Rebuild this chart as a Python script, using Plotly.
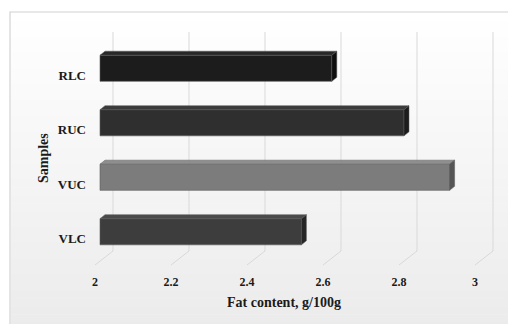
import plotly.graph_objects as go

# Fat content per sample (bottom to top as drawn)
samples = ["VLC", "VUC", "RUC", "RLC"]
fat_content = [2.53, 2.92, 2.80, 2.61]
bar_colors = ["#3d3d3d", "#7c7c7c", "#2f2f2f", "#1c1c1c"]
side_colors = ["#262626", "#555555", "#1c1c1c", "#0e0e0e"]
top_colors = ["#4a4a4a", "#8e8e8e", "#3a3a3a", "#282828"]
tick_vals = [2, 2.2, 2.4, 2.6, 2.8, 3]
tick_text = ["2", "2.2", "2.4", "2.6", "2.8", "3"]
axis_start = 2

# Page geometry (pixels)
W_PAGE, H_PAGE = 508, 324
L, R, T, B = 80, 508, 41, 259
PW, PH = R - L, B - T
PX_PER_UNIT = 380.0
CAT_PX = PH / len(samples)
DX, DY = 5, 4          # depth offset for the 3-D faces
HALF = 0.24 * CAT_PX   # half bar thickness in pixels


def px_x(p):
    return (p - L) / PW


def px_y(p):
    return (B - p) / PH


FONT = "Liberation Serif"
TXT = "#1a1a1a"

fig = go.Figure()

# Front faces of the bars
fig.add_trace(go.Bar(
    y=list(range(len(samples))),
    x=[v - axis_start for v in fat_content],
    base=axis_start,
    orientation="h",
    width=0.48,
    marker=dict(color=bar_colors, line=dict(color="#5a5a5a", width=0.6)),
    customdata=samples,
    hovertemplate="%{customdata}: %{x}<extra></extra>",
    xaxis="x", yaxis="y",
    showlegend=False,
))

# Carrier trace for the tick-label axes
fig.add_trace(go.Scatter(
    x=fat_content, y=list(range(len(samples))),
    mode="markers", marker=dict(opacity=0),
    hoverinfo="skip", showlegend=False,
    xaxis="x2", yaxis="y2",
))

shapes = []

# Soft vertical gradient inside the chart frame
n_bands = 40
y_top, y_bot = 13, 330
for k in range(n_bands):
    y0 = y_top + (y_bot - y_top) * k / n_bands
    y1 = y_top + (y_bot - y_top) * (k + 1) / n_bands
    g = int(round(255 - 20 * (k / (n_bands - 1))))
    shapes.append(dict(
        type="rect", xref="paper", yref="paper", layer="below",
        x0=px_x(11), x1=px_x(515), y0=px_y(y0), y1=px_y(y1 + 0.5),
        fillcolor=f"rgb({g},{g},{g})", line=dict(width=0),
    ))

# Chart frame
shapes.append(dict(
    type="rect", xref="paper", yref="paper", layer="below",
    x0=px_x(10), x1=px_x(515), y0=px_y(12), y1=px_y(335),
    fillcolor="rgba(0,0,0,0)", line=dict(color="#d2d2d2", width=1.2),
))

# Back-wall gridlines with their slanted floor segments
for t in tick_vals:
    shapes.append(dict(
        type="path", layer="below",
        xref="x", xsizemode="pixel", xanchor=t,
        yref="paper", ysizemode="pixel", yanchor=0,
        path="M 13,227 L 13,8 L -5,-6",
        line=dict(color="#d9d9d9", width=1),
    ))

# Top and side faces of the 3-D bars
dx_data = DX / PX_PER_UNIT
for i, v in enumerate(fat_content):
    shapes.append(dict(
        type="path", layer="above",
        xref="x", yref="y", ysizemode="pixel", yanchor=i,
        path=(f"M {axis_start},{HALF} L {axis_start + dx_data},{HALF + DY} "
              f"L {v + dx_data},{HALF + DY} L {v},{HALF} Z"),
        fillcolor=top_colors[i], line=dict(color="#5a5a5a", width=0.5),
    ))
    shapes.append(dict(
        type="path", layer="above",
        xref="x", xsizemode="pixel", xanchor=v,
        yref="y", ysizemode="pixel", yanchor=i,
        path=f"M 0,{HALF} L {DX},{HALF + DY} L {DX},{-HALF + DY} L 0,{-HALF} Z",
        fillcolor=side_colors[i], line=dict(color="#5a5a5a", width=0.5),
    ))

annotations = [
    dict(text="<b>Fat content, g/100g</b>", xref="paper", yref="paper",
         x=px_x(284), y=px_y(302), xanchor="center", yanchor="middle",
         showarrow=False, font=dict(family=FONT, size=14, color=TXT)),
    dict(text="<b>Samples</b>", xref="paper", yref="paper",
         x=px_x(43), y=px_y(158), xanchor="center", yanchor="middle",
         textangle=-90, showarrow=False,
         font=dict(family=FONT, size=14, color=TXT)),
]

lab_shift = 7 / CAT_PX

fig.update_layout(
    width=W_PAGE, height=H_PAGE,
    margin=dict(l=L, r=W_PAGE - R, t=T, b=H_PAGE - B, pad=0),
    paper_bgcolor="white", plot_bgcolor="rgba(0,0,0,0)",
    bargap=0.5,
    xaxis=dict(range=[axis_start - 20 / PX_PER_UNIT, axis_start + (PW - 20) / PX_PER_UNIT],
               visible=False, fixedrange=True),
    yaxis=dict(range=[-0.5, len(samples) - 0.5], visible=False, fixedrange=True),
    xaxis2=dict(overlaying="x", anchor="y", side="bottom",
                range=[axis_start - 15 / PX_PER_UNIT, axis_start + (PW - 15) / PX_PER_UNIT],
                tickvals=tick_vals, ticktext=[f"<b>{s}</b>" for s in tick_text],
                tickfont=dict(family=FONT, size=12, color=TXT),
                showgrid=False, zeroline=False, showline=False, ticks="",
                ticklabelstandoff=14),
    yaxis2=dict(overlaying="y", anchor="free", position=px_x(86), side="left",
                range=[-0.5 + lab_shift, len(samples) - 0.5 + lab_shift],
                tickvals=list(range(len(samples))),
                ticktext=[f"<b>{s}</b>" for s in samples],
                tickfont=dict(family=FONT, size=13, color=TXT),
                showgrid=False, zeroline=False, showline=False, ticks="",
                ticklabelstandoff=0),
    shapes=shapes,
    annotations=annotations,
)

fig.write_html("out.html")
